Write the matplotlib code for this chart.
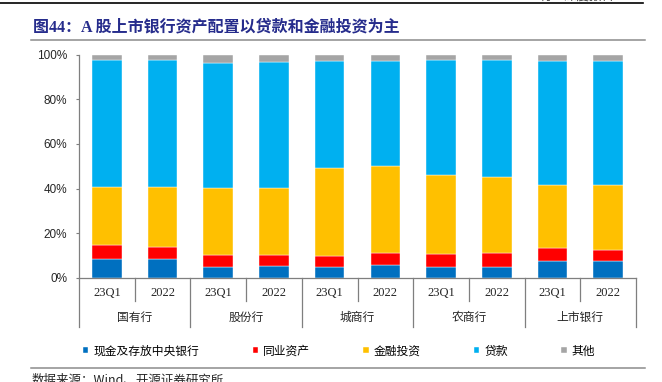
import numpy as np
import matplotlib.pyplot as plt
from matplotlib.lines import Line2D
from matplotlib.ticker import PercentFormatter

plt.rcParams['font.family'] = ['Noto Sans CJK SC', 'DejaVu Sans']

# data (shares of total assets, %)
groups = ['国有行', '股份行', '城商行', '农商行', '上市银行']
periods = ['23Q1', '2022']
series = ['现金及存放中央银行', '同业资产', '金融投资', '贷款', '其他']
cash = [8.4, 8.2, 4.9, 5.4, 4.9, 5.5, 4.9, 4.9, 7.5, 7.5]
interbank = [6.4, 5.6, 5.3, 4.8, 5.0, 5.4, 5.9, 6.3, 5.7, 5.1]
invest = [26.0, 26.9, 30.2, 30.2, 39.4, 39.2, 35.4, 33.9, 28.5, 29.0]
loans = [57.0, 57.1, 56.0, 56.3, 47.9, 47.2, 51.6, 52.7, 55.6, 55.7]
other = [2.2, 2.2, 3.6, 3.3, 2.8, 2.7, 2.2, 2.2, 2.7, 2.7]
colors = ['#0070C0', '#FF0000', '#FFC000', '#00B0F0', '#A5A5A5']

W, H = 662, 382
fig = plt.figure(figsize=(W / 100, H / 100), dpi=100)
fig.set_facecolor('w')
ax = fig.add_axes([79 / W, 1 - 277.7 / H, (636 - 79) / W, 223 / H])

x = np.arange(len(cash))
bottom = np.zeros(len(cash))
handles = []
for vals, name, c in zip([cash, interbank, invest, loans, other], series, colors):
    v = np.array(vals) / 100
    b = ax.bar(x, v, 0.53, bottom=bottom, color=c, edgecolor='white',
               linewidth=0.3, label=name)
    bottom += v
    handles.append(b)

ax.set_xlim(-0.5, len(cash) - 0.5)
ax.set_ylim(0, 1)
ax.set_yticks(np.linspace(0, 1, 6))
ax.yaxis.set_major_formatter(PercentFormatter(1, decimals=0))
for lab in ax.get_yticklabels():
    lab.set_family('Liberation Sans')
    lab.set_fontsize(8.5)
    lab.set_color('#262626')
ax.tick_params(axis='y', length=2, width=0.8, color='#7f7f7f', pad=6.5)
ax.set_xticks([])
for s in ['top', 'right']:
    ax.spines[s].set_visible(False)
for s in ['left', 'bottom']:
    ax.spines[s].set_color('#7f7f7f')
    ax.spines[s].set_linewidth(0.9)

# two-level category axis
trans = ax.get_xaxis_transform()
for i in range(len(cash)):
    ax.text(i, -0.070, periods[i % 2], transform=trans, ha='center',
            va='center', family='Liberation Serif', fontsize=9, color='#262626')
for k, g in enumerate(groups):
    ax.text(2 * k + 0.5, -0.179, g, transform=trans, ha='center',
            va='center', fontsize=8.5, color='#262626')
for k in range(len(groups)):
    ax.plot([2 * k + 0.5] * 2, [0, -0.103], transform=trans, color='#7f7f7f',
            lw=0.9, clip_on=False)
for k in range(len(groups) + 1):
    ax.plot([2 * k - 0.5] * 2, [0, -0.22], transform=trans, color='#7f7f7f',
            lw=0.9, clip_on=False)

ax.legend(handles=handles, loc='center left', ncol=5, frameon=False,
          bbox_to_anchor=(83 / W, 1 - 351 / H), bbox_transform=fig.transFigure,
          fontsize=8.5, handlelength=0.45, handleheight=0.45,
          handletextpad=0.45, columnspacing=4.5, borderpad=0,
          borderaxespad=0)

# page decoration
fig.add_artist(Line2D([0, 643 / W], [1 - 3.3 / H] * 2, color='black', lw=1.2))
fig.text(540 / W, 1 - 3 / H, '行业深度报告', fontsize=9, color='#404040',
         ha='left', va='bottom')
fig.text(33 / W, 1 - 27 / H, '图44：A 股上市银行资产配置以贷款和金融投资为主',
         family=['Liberation Serif', 'Noto Sans CJK SC'], fontweight='bold',
         fontsize=11.5, color='#262C8C', ha='left', va='center')
fig.add_artist(Line2D([31 / W, 645 / W], [1 - 39.5 / H] * 2, color='#8c8c8c', lw=1.1))
fig.add_artist(Line2D([31 / W, 645 / W], [1 - 368 / H] * 2, color='#8c8c8c', lw=1.1))
fig.text(32 / W, 1 - 374 / H, '数据来源：Wind、开源证券研究所', fontsize=9,
         color='#262626', ha='left', va='top')

fig.savefig('out.png', dpi=100)
